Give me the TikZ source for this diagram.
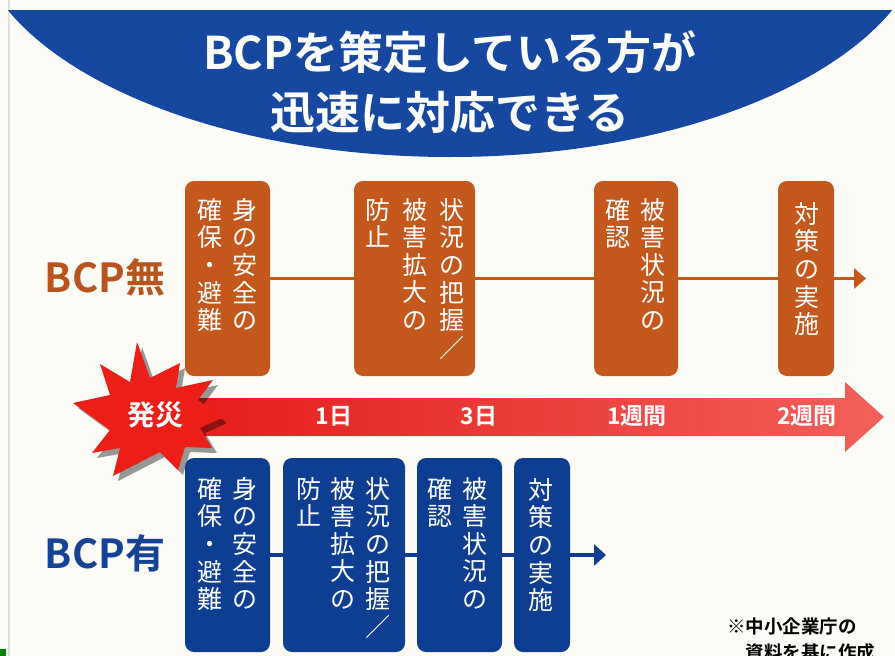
\documentclass[tikz,border=0pt]{standalone}
\usepackage{xcolor}
\usepackage{fontspec}
\setmainfont{Noto Sans CJK JP}[BoldFont={* Bold}]
\usepackage{tikz}
\usetikzlibrary{arrows.meta,positioning,shadings}
\definecolor{paper}{RGB}{253,252,246}
\definecolor{titleblue}{RGB}{22,72,160}
\definecolor{ocol}{RGB}{196,88,28}
\definecolor{olabel}{RGB}{184,84,30}
\definecolor{bcol}{RGB}{14,62,146}
\definecolor{blabel}{RGB}{22,66,150}
\definecolor{redleft}{RGB}{228,28,28}
\definecolor{redright}{RGB}{242,96,90}
\definecolor{burstred}{RGB}{236,30,24}
\tikzset{
    title/.style={text=white,font=\bfseries\fontsize{45}{50}\selectfont,inner sep=0pt},
    rowlabel/.style={font=\bfseries\fontsize{40}{44}\selectfont,inner sep=0pt},
    obox/.style={fill=ocol,rounded corners=9pt,minimum height=195pt,inner sep=0pt},
    bbox/.style={fill=bcol,rounded corners=9pt,minimum height=194pt,inner sep=0pt},
    vcol/.style={text=white,font=\fontsize{25}{27.6}\selectfont,align=center,anchor=north,inner sep=0pt},
    oline/.style={draw=ocol,line width=3pt},
    bline/.style={draw=bcol,line width=4pt},
    oarr/.style={oline,-{Triangle[length=12pt,width=20pt]}},
    barr/.style={bline,-{Triangle[length=12pt,width=21pt]}},
    tlabel/.style={text=white,font=\bfseries\fontsize{23}{26}\selectfont,inner sep=0pt},
    note/.style={font=\bfseries\fontsize{18.5}{26}\selectfont,align=left,inner sep=0pt},
}

\begin{document}
\begin{tikzpicture}[x=1pt,y=-1pt]
    \useasboundingbox (0,0) rectangle (895,656);
    \fill[paper] (0,0) rectangle (895,656);
    \draw[black!12,line width=1.5pt] (9,0) -- (9,656);
    \fill[green!50!black] (0,649) rectangle (6,656);

    % heading
    \begin{scope}
        \clip (0,10) rectangle (895,200);
        \fill[titleblue] (450,-80) ellipse [x radius=478,y radius=237];
    \end{scope}
    \node[title] (head1) at (450,52) {BCPを策定している方が};
    \node[title] (head2) at (450,112) {迅速に対応できる};

    % time axis
    \shade[left color=redleft,right color=redright] (180,398) -- (845,398) -- (845,382)
        -- (884,417) -- (845,452) -- (845,436) -- (180,436) -- cycle;
    \foreach \d/\c/\o in {5/black/.4,0/burstred/1}
        \fill[\c,opacity=\o,shift={(\d,\d)}] (137,342) -- (150,378) -- (180,363) -- (176,388)
            -- (213,380) -- (198,400) -- (222,418) -- (200,428) -- (212,448) -- (185,447)
            -- (178,470) -- (160,452) -- (113,476) -- (120,448) -- (92,453) -- (110,430)
            -- (73,403) -- (110,395) -- (100,364) -- (130,382) -- cycle;
    \node[text=white,font=\bfseries\fontsize{28}{30}\selectfont,inner sep=0pt] (burst) at (155,415) {発災};
    \node[tlabel] (day1) at (334,416) {1日};
    \node[tlabel] (day3) at (479,416) {3日};
    \node[tlabel] (week1) at (637,416) {1週間};
    \node[tlabel] (week2) at (807,416) {2週間};

    % without BCP
    \node[rowlabel,text=olabel] (nolabel) at (105,277) {BCP無};
    \node[obox,minimum width=85pt] (o1) at (227.5,278.5) {};
    \node[obox,minimum width=121pt] (o2) at (414.5,278.5) {};
    \node[obox,minimum width=84pt] (o3) at (636,278.5) {};
    \node[obox,minimum width=56pt] (o4) at (806,278.5) {};
    \coordinate (oend) at (866,278.5);
    \draw[oline] (o1) -- (o2);
    \draw[oline] (o2) -- (o3);
    \draw[oline] (o3) -- (o4);
    \draw[oarr] (o4) -- (oend);
    \node[vcol] (o1a) at (245,198) {身\\の\\安\\全\\の};
    \node[vcol] (o1b) at (210,198) {確\\保\\・\\避\\難};
    \node[vcol] (o2a) at (452,198) {状\\況\\の\\把\\握\\／};
    \node[vcol] (o2b) at (415,198) {被\\害\\拡\\大\\の};
    \node[vcol] (o2c) at (378,198) {防\\止};
    \node[vcol] (o3a) at (653,198) {被\\害\\状\\況\\の};
    \node[vcol] (o3b) at (618,198) {確\\認};
    \node[vcol] (o4a) at (807,202) {対\\策\\の\\実\\施};

    % with BCP
    \node[rowlabel,text=blabel] (yeslabel) at (105,553) {BCP有};
    \node[bbox,minimum width=85pt] (b1) at (227.5,555) {};
    \node[bbox,minimum width=122pt] (b2) at (344,555) {};
    \node[bbox,minimum width=85pt] (b3) at (459.5,555) {};
    \node[bbox,minimum width=56pt] (b4) at (542,555) {};
    \coordinate (bend) at (606,555);
    \draw[bline] (b1) -- (b2);
    \draw[bline] (b2) -- (b3);
    \draw[bline] (b3) -- (b4);
    \draw[barr] (b4) -- (bend);
    \node[vcol] (b1a) at (245,477) {身\\の\\安\\全\\の};
    \node[vcol] (b1b) at (210,477) {確\\保\\・\\避\\難};
    \node[vcol] (b2a) at (378,477) {状\\況\\の\\把\\握\\／};
    \node[vcol] (b2b) at (343,477) {被\\害\\拡\\大\\の};
    \node[vcol] (b2c) at (309,477) {防\\止};
    \node[vcol] (b3a) at (475,477) {被\\害\\状\\況\\の};
    \node[vcol] (b3b) at (440,477) {確\\認};
    \node[vcol] (b4a) at (541,478) {対\\策\\の\\実\\施};

    % source
    \node[note,anchor=north west] (source) at (727,617) {※中小企業庁の\\\hspace*{1em}資料を基に作成};
\end{tikzpicture}
\end{document}
